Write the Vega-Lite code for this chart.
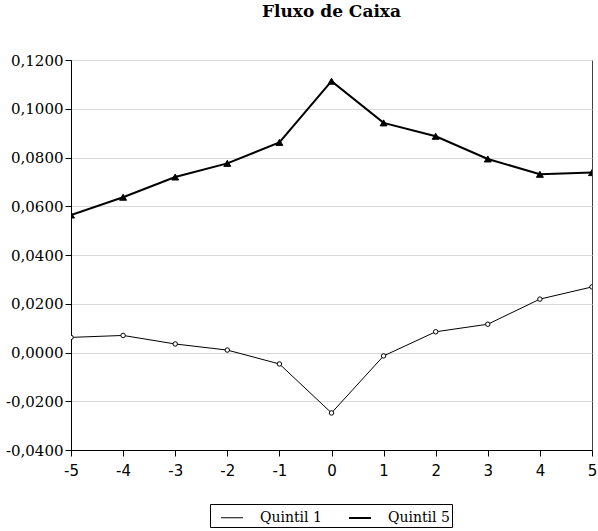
{
  "$schema": "https://vega.github.io/schema/vega-lite/v6.json",
  "width": 521,
  "height": 390,
  "autosize": {"type": "none"},
  "padding": {"left": 71, "top": 60, "right": 6, "bottom": 81},
  "background": "white",
  "config": {
    "locale": {"number": {"decimal": ",", "thousands": ".", "grouping": [3], "currency": ["R$", ""], "minus": "-"}},
    "view": {"stroke": "#404040", "strokeWidth": 1},
    "axis": {"domainColor": "black", "tickColor": "black", "labelColor": "black", "gridColor": "#d9d9d9", "gridWidth": 1}
  },
  "title": {
    "text": "Fluxo de Caixa",
    "font": "DejaVu Serif",
    "fontSize": 17,
    "fontWeight": "bold",
    "color": "black",
    "anchor": "middle",
    "offset": 32
  },
  "data": {
    "values": [
      {"t": -5, "v": 0.0062, "serie": "Quintil 1"},
      {"t": -4, "v": 0.0070, "serie": "Quintil 1"},
      {"t": -3, "v": 0.0035, "serie": "Quintil 1"},
      {"t": -2, "v": 0.0010, "serie": "Quintil 1"},
      {"t": -1, "v": -0.0047, "serie": "Quintil 1"},
      {"t": 0, "v": -0.0248, "serie": "Quintil 1"},
      {"t": 1, "v": -0.0014, "serie": "Quintil 1"},
      {"t": 2, "v": 0.0085, "serie": "Quintil 1"},
      {"t": 3, "v": 0.0116, "serie": "Quintil 1"},
      {"t": 4, "v": 0.0219, "serie": "Quintil 1"},
      {"t": 5, "v": 0.0269, "serie": "Quintil 1"},
      {"t": -5, "v": 0.0564, "serie": "Quintil 5"},
      {"t": -4, "v": 0.0637, "serie": "Quintil 5"},
      {"t": -3, "v": 0.0720, "serie": "Quintil 5"},
      {"t": -2, "v": 0.0776, "serie": "Quintil 5"},
      {"t": -1, "v": 0.0862, "serie": "Quintil 5"},
      {"t": 0, "v": 0.1113, "serie": "Quintil 5"},
      {"t": 1, "v": 0.0942, "serie": "Quintil 5"},
      {"t": 2, "v": 0.0887, "serie": "Quintil 5"},
      {"t": 3, "v": 0.0794, "serie": "Quintil 5"},
      {"t": 4, "v": 0.0731, "serie": "Quintil 5"},
      {"t": 5, "v": 0.0738, "serie": "Quintil 5"}
    ]
  },
  "encoding": {
    "x": {
      "field": "t",
      "type": "quantitative",
      "scale": {"domain": [-5, 5], "nice": false, "zero": false},
      "axis": {
        "title": null,
        "values": [-5, -4, -3, -2, -1, 0, 1, 2, 3, 4, 5],
        "format": "d",
        "grid": false,
        "labelFont": "DejaVu Sans",
        "labelFontSize": 15,
        "tickSize": 6,
        "labelPadding": 7,
        "labelFlush": false
      }
    },
    "y": {
      "field": "v",
      "type": "quantitative",
      "scale": {"domain": [-0.04, 0.12], "nice": false, "zero": false},
      "axis": {
        "title": null,
        "values": [-0.04, -0.02, 0, 0.02, 0.04, 0.06, 0.08, 0.1, 0.12],
        "format": ".4f",
        "grid": true,
        "labelFont": "DejaVu Serif",
        "labelFontSize": 15,
        "tickSize": 6,
        "labelPadding": 2
      }
    }
  },
  "layer": [
    {
      "mark": {"type": "line", "color": "black", "clip": true},
      "encoding": {
        "detail": {"field": "serie"},
        "strokeWidth": {
          "field": "serie",
          "type": "nominal",
          "scale": {"domain": ["Quintil 1", "Quintil 5"], "range": [1, 2]},
          "legend": {
            "title": null,
            "orient": "none",
            "legendX": 139,
            "legendY": 444,
            "direction": "horizontal",
            "columns": 2,
            "padding": 2,
            "strokeColor": "black",
            "fillColor": "white",
            "labelFont": "DejaVu Serif",
            "labelFontSize": 14,
            "labelColor": "black",
            "symbolOffset": 8,
            "labelOffset": 16,
            "columnPadding": 18,
            "symbolSize": 484,
            "symbolType": "stroke",
            "symbolStrokeColor": "black"
          }
        }
      }
    },
    {
      "transform": [{"filter": "datum.serie === 'Quintil 1'"}],
      "mark": {"type": "point", "shape": "circle", "filled": true, "fill": "white", "stroke": "black", "strokeWidth": 1, "opacity": 1, "size": 20, "clip": true}
    },
    {
      "transform": [{"filter": "datum.serie === 'Quintil 5'"}],
      "mark": {"type": "point", "shape": "triangle-up", "filled": true, "fill": "black", "stroke": "black", "strokeWidth": 1, "opacity": 1, "size": 48, "clip": true}
    }
  ]
}
